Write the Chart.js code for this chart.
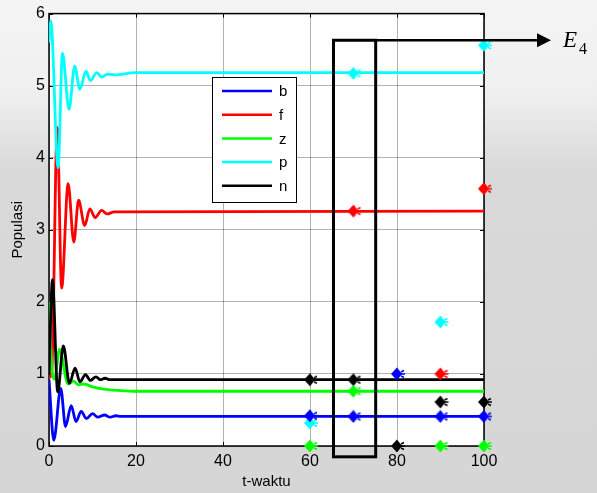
<!DOCTYPE html>
<html lang="id">
<head>
<meta charset="UTF-8">
<title>Populasi</title>
<script src="https://cdn.jsdelivr.net/npm/chart.js"></script>
<style>
  body {
    margin: 0;
    background: linear-gradient(to bottom, #f4f4f4 0px, #f0f0f0 90px, #d9d9d9 170px, #d6d6d6 100%);
  }
  canvas { display: block; }
</style>
</head>
<body>
<canvas id="grafik" width="597" height="493"></canvas>
<script>
// waktu (t) dan nilai tiap populasi
const bT = [0, 1.1, 2.7, 3.8, 5.1, 6.2, 7.4, 8.6, 10.0, 11.2, 12.8, 14.0, 15.4, 16.5, 100];
const bV = [0.92, 0.08, 0.80, 0.27, 0.56, 0.34, 0.48, 0.38, 0.45, 0.40, 0.43, 0.40, 0.42, 0.41, 0.41];

const fT = [0, 0.6, 1.9, 2.9, 4.4, 5.7, 6.8, 8.2, 9.4, 10.6, 12.1, 13.4, 15, 100];
const fV = [0.95, 1.0, 4.42, 2.19, 3.64, 2.83, 3.41, 3.06, 3.29, 3.17, 3.27, 3.22, 3.25, 3.26];

const zT = [0, 0.7, 1.3, 2.4, 4.4, 5.6, 6.7, 8, 10, 12.5, 16.3, 20, 100];
const zV = [2.0, 1.05, 0.93, 1.34, 0.86, 0.90, 0.85, 0.86, 0.82, 0.79, 0.77, 0.76, 0.76];

const pT = [0, 0.4, 2.1, 3.1, 4.6, 5.9, 7.1, 8.5, 9.5, 11, 12.1, 13.5, 15, 20, 100];
const pV = [5.6, 5.9, 3.86, 5.45, 4.67, 5.27, 4.95, 5.2, 5.07, 5.18, 5.12, 5.16, 5.15, 5.18, 5.18];

const nT = [0, 0.8, 2.0, 3.3, 4.7, 6.0, 7.1, 8.4, 9.5, 10.8, 11.8, 12.9, 14, 100];
const nV = [1.0, 2.31, 0.75, 1.39, 0.87, 1.08, 0.89, 0.99, 0.91, 0.96, 0.92, 0.94, 0.92, 0.92];

// titik-titik penanda (marker)
const bMarkX = [60, 70, 80, 90, 100];
const bMarkY = [0.42, 0.41, 1.0, 0.41, 0.41];
const fMarkX = [70, 90, 100];
const fMarkY = [3.26, 1.0, 3.57];
const zMarkX = [60, 70, 90, 100];
const zMarkY = [0, 0.76, 0, 0];
const pMarkX = [60, 70, 90, 100];
const pMarkY = [0.32, 5.17, 1.72, 5.56];
const nMarkX = [60, 70, 80, 90, 100];
const nMarkY = [0.92, 0.92, 0, 0.61, 0.61];

const namaSeri = ["b", "f", "z", "p", "n"];
const warnaSeri = ["#0000ff", "#ff0000", "#00ff00", "#00ffff", "#000000"];

// kotak E4 (dalam satuan data)
const kotakX = [65.4, 75.1];
const kotakY = [-0.15, 5.63];
const panahUjungX = 115.4;

function pasangan(xs, ys) {
    return xs.map((x, i) => ({ x: x, y: ys[i] }));
}

function buatMarker(warna) {
    let c = document.createElement("canvas");
    c.width = 20; c.height = 14;
    let g = c.getContext("2d");
    g.fillStyle = warna;
    g.strokeStyle = warna;
    g.lineWidth = 1.5;
    g.beginPath();
    g.moveTo(4, 7); g.lineTo(10, 0.5); g.lineTo(15, 7); g.lineTo(10, 13.5);
    g.closePath();
    g.fill();
    g.beginPath();
    g.moveTo(14, 7); g.lineTo(18, 7);
    g.moveTo(14, 5); g.lineTo(17, 3.5);
    g.moveTo(14, 9); g.lineTo(17, 10.5);
    g.stroke();
    return c;
}

const garisData = [[bT, bV], [fT, fV], [zT, zV], [pT, pV], [nT, nV]];
const markData = [[bMarkX, bMarkY], [fMarkX, fMarkY], [zMarkX, zMarkY], [pMarkX, pMarkY], [nMarkX, nMarkY]];

let datasets = [];
garisData.forEach((d, i) => {
    datasets.push({
        label: namaSeri[i],
        data: pasangan(d[0], d[1]),
        showLine: true,
        borderColor: warnaSeri[i],
        borderWidth: 2.8,
        pointRadius: 0,
        cubicInterpolationMode: "monotone",
        order: 5 - i
    });
});
markData.forEach((d, i) => {
    datasets.push({
        label: namaSeri[i] + "-titik",
        data: pasangan(d[0], d[1]),
        showLine: false,
        pointStyle: buatMarker(warnaSeri[i]),
        pointRadius: 7,
        clip: false,
        order: 0
    });
});

const hiasan = {
    id: "hiasan",
    beforeDraw(chart) {
        const a = chart.chartArea, ctx = chart.ctx;
        ctx.save();
        ctx.fillStyle = "#ffffff";
        ctx.fillRect(a.left, a.top, a.right - a.left, a.bottom - a.top);
        ctx.restore();
    },
    beforeDatasetsDraw(chart) {
        const a = chart.chartArea, ctx = chart.ctx;
        const sx = chart.scales.x, sy = chart.scales.y;
        ctx.save();
        ctx.strokeStyle = "#000";
        ctx.lineWidth = 1;
        // tick ke dalam
        sx.ticks.forEach(t => {
            const px = Math.round(sx.getPixelForValue(t.value)) + 0.5;
            ctx.beginPath();
            ctx.moveTo(px, a.bottom); ctx.lineTo(px, a.bottom - 4);
            ctx.moveTo(px, a.top); ctx.lineTo(px, a.top + 4);
            ctx.stroke();
        });
        sy.ticks.forEach(t => {
            const py = Math.round(sy.getPixelForValue(t.value)) + 0.5;
            ctx.beginPath();
            ctx.moveTo(a.left, py); ctx.lineTo(a.left + 4, py);
            ctx.moveTo(a.right, py); ctx.lineTo(a.right - 4, py);
            ctx.stroke();
        });
        ctx.lineWidth = 1.5;
        ctx.strokeRect(a.left, a.top, a.right - a.left, a.bottom - a.top);
        ctx.restore();
    },
    afterDatasetsDraw(chart) {
        const a = chart.chartArea, ctx = chart.ctx;
        const sx = chart.scales.x, sy = chart.scales.y;
        ctx.save();

        // legenda
        const lx = 212, ly = 77, lw = 84, lh = 125;
        ctx.fillStyle = "#fff";
        ctx.fillRect(lx, ly, lw, lh);
        ctx.strokeStyle = "#000";
        ctx.lineWidth = 1;
        ctx.strokeRect(lx + 0.5, ly + 0.5, lw, lh);
        ctx.font = "15px 'Liberation Sans', Arial, sans-serif";
        ctx.textBaseline = "middle";
        ctx.textAlign = "left";
        namaSeri.forEach((nama, i) => {
            const y = ly + 14 + i * 23.7;
            ctx.strokeStyle = warnaSeri[i];
            ctx.lineWidth = 2.5;
            ctx.beginPath();
            ctx.moveTo(lx + 10, y); ctx.lineTo(lx + 60, y);
            ctx.stroke();
            ctx.fillStyle = "#000";
            ctx.fillText(nama, lx + 67, y + 1);
        });

        // kotak E4 dan panah
        const x1 = sx.getPixelForValue(kotakX[0]);
        const x2 = sx.getPixelForValue(kotakX[1]);
        const yT = sy.getPixelForValue(kotakY[1]);
        const yB = sy.getPixelForValue(kotakY[0]);
        ctx.strokeStyle = "#000";
        ctx.lineWidth = 3;
        ctx.strokeRect(x1, yT, x2 - x1, yB - yT);
        const ujung = sx.getPixelForValue(panahUjungX);
        ctx.lineWidth = 2.5;
        ctx.beginPath();
        ctx.moveTo(x2, yT); ctx.lineTo(ujung - 12, yT);
        ctx.stroke();
        ctx.fillStyle = "#000";
        ctx.beginPath();
        ctx.moveTo(ujung, yT);
        ctx.lineTo(ujung - 14, yT - 7);
        ctx.lineTo(ujung - 14, yT + 7);
        ctx.closePath();
        ctx.fill();

        ctx.textBaseline = "alphabetic";
        ctx.font = "italic 23px 'Liberation Serif', 'DejaVu Serif', serif";
        ctx.fillText("E", ujung + 12, yT + 7);
        ctx.font = "16px 'Liberation Serif', 'DejaVu Serif', serif";
        ctx.fillText("4", ujung + 28, yT + 14);
        ctx.restore();
    }
};

new Chart(document.getElementById("grafik"), {
    type: "scatter",
    data: { datasets: datasets },
    options: {
        responsive: false,
        animation: false,
        layout: { padding: { top: 10, right: 113, left: 0, bottom: 0 } },
        plugins: {
            legend: { display: false },
            tooltip: { enabled: false }
        },
        scales: {
            x: {
                type: "linear",
                min: 0, max: 100,
                afterFit(s) { s.height = 47; },
                ticks: {
                    stepSize: 20,
                    color: "#000",
                    padding: 6,
                    font: { family: "'Liberation Sans', Arial, sans-serif", size: 16 }
                },
                grid: { color: "rgba(0,0,0,0.3)", lineWidth: 1, drawTicks: false },
                border: { display: false },
                title: {
                    display: true,
                    text: "t-waktu",
                    color: "#000",
                    padding: { top: 0, bottom: 2 },
                    font: { family: "'Liberation Sans', Arial, sans-serif", size: 15 }
                }
            },
            y: {
                type: "linear",
                min: 0, max: 6,
                afterFit(s) { s.width = 49; },
                ticks: {
                    stepSize: 1,
                    color: "#000",
                    padding: 4,
                    font: { family: "'Liberation Sans', Arial, sans-serif", size: 16 }
                },
                grid: { color: "rgba(0,0,0,0.3)", lineWidth: 1, drawTicks: false },
                border: { display: false },
                title: {
                    display: true,
                    text: "Populasi",
                    color: "#000",
                    padding: { top: 9, bottom: 0 },
                    font: { family: "'Liberation Sans', Arial, sans-serif", size: 15 }
                }
            }
        }
    },
    plugins: [hiasan]
});
</script>
</body>
</html>
